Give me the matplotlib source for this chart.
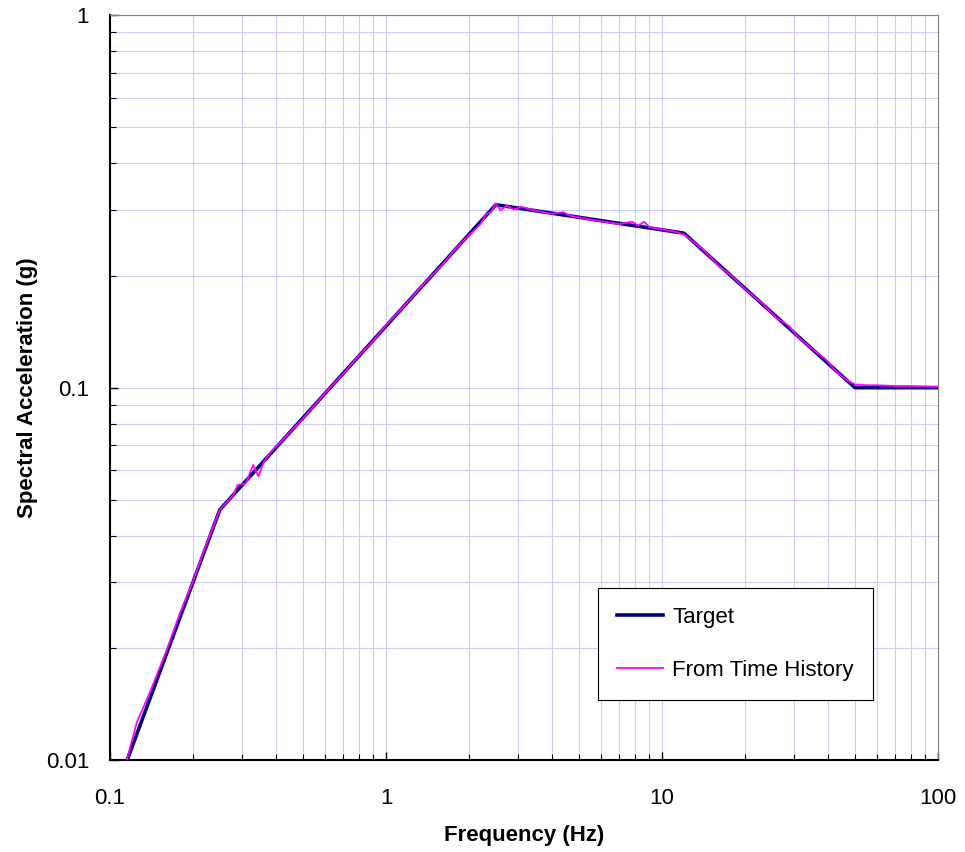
import matplotlib.pyplot as plt
from matplotlib.ticker import NullFormatter

plt.rcParams["font.family"] = ["Liberation Sans", "DejaVu Sans"]

# target spectrum (corner points)
target_freq = [0.1, 0.25, 2.5, 12.0, 50.0, 100.0]
target_sa = [0.0075, 0.047, 0.31, 0.26, 0.100, 0.100]

# spectrum computed from the time history
th_freq = [0.115, 0.125, 0.14, 0.16, 0.18, 0.20, 0.22, 0.25, 0.28, 0.29,
           0.31, 0.33, 0.345, 0.36, 0.38, 0.42, 0.5, 0.6, 0.7, 0.8,
           0.9, 1.0, 1.2, 1.4, 1.6, 1.8, 2.0, 2.2, 2.3, 2.4,
           2.5, 2.6, 2.75, 2.9, 3.1, 3.4, 4.0, 4.4, 4.6, 5.0,
           6.0, 7.0, 7.8, 8.2, 8.6, 9.0, 10.0, 11.0, 12.0, 14.0,
           16.0, 18.0, 20.0, 23.0, 26.0, 29.0, 31.0, 35.0, 39.0, 43.0,
           47.0, 50.0, 55.0, 60.0, 70.0, 80.0, 100.0]
th_sa = [0.0100, 0.0126, 0.0153, 0.0196, 0.0250, 0.0302, 0.0368, 0.0470, 0.0515, 0.0548,
         0.0552, 0.0620, 0.0578, 0.0630, 0.0668, 0.0721, 0.0826, 0.0965, 0.1090, 0.1222,
         0.1338, 0.1470, 0.1700, 0.1935, 0.2140, 0.2375, 0.2570, 0.2750, 0.2920, 0.2960,
         0.3120, 0.3000, 0.3080, 0.3010, 0.3060, 0.3000, 0.2930, 0.2960, 0.2900, 0.2865,
         0.2800, 0.2750, 0.2790, 0.2720, 0.2790, 0.2700, 0.2660, 0.2630, 0.2580, 0.2360,
         0.2130, 0.1990, 0.1840, 0.1690, 0.1540, 0.1460, 0.1372, 0.1270, 0.1195, 0.1100,
         0.1045, 0.1020, 0.1015, 0.1015, 0.1010, 0.1010, 0.1005]

x_ticks = [0.1, 1, 10, 100]
x_labels = ["0.1", "1", "10", "100"]
y_ticks = [0.01, 0.1, 1]
y_labels = ["0.01", "0.1", "1"]

fig = plt.figure(figsize=(9.65, 8.52), dpi=100)
ax = fig.add_axes([0.114, 0.108, 0.858, 0.874])

ax.plot(target_freq, target_sa, color="#000080", linewidth=2.6, label="Target", zorder=3)
ax.plot(th_freq, th_sa, color="#ff00ff", linewidth=1.3, label="From Time History", zorder=4)

ax.set_xscale("log")
ax.set_yscale("log")
ax.set_xlim(0.1, 100)
ax.set_ylim(0.01, 1)

ax.set_xticks(x_ticks)
ax.set_xticklabels(x_labels)
ax.set_yticks(y_ticks)
ax.set_yticklabels(y_labels)
ax.xaxis.set_minor_formatter(NullFormatter())
ax.yaxis.set_minor_formatter(NullFormatter())

ax.tick_params(which="both", direction="in", labelsize=16, top=False, right=False)
ax.tick_params(which="major", length=6, width=1)
ax.tick_params(which="minor", length=4, width=0.8)
ax.tick_params(axis="x", which="major", pad=20)
ax.tick_params(axis="y", which="major", pad=15)

ax.grid(True, which="both", color="#ccccff", linewidth=0.8)
ax.set_axisbelow(True)

ax.spines["left"].set_linewidth(1.5)
ax.spines["bottom"].set_linewidth(1.5)
ax.spines["top"].set_color("#808080")
ax.spines["right"].set_color("#808080")

ax.set_xlabel("Frequency (Hz)", fontsize=16, fontweight="bold", va="center")
ax.set_ylabel("Spectral Acceleration (g)", fontsize=16, fontweight="bold", va="center")
ax.xaxis.set_label_coords(0.5, -0.101)
ax.yaxis.set_label_coords(-0.1, 0.5)

legend = ax.legend(
    loc="lower left",
    bbox_to_anchor=(0.589, 0.081),
    fontsize=16,
    frameon=True,
    fancybox=False,
    framealpha=1,
    edgecolor="black",
    handlelength=2.1,
    handletextpad=0.4,
    labelspacing=1.45,
    borderpad=0.85,
    borderaxespad=0,
)
legend.get_frame().set_linewidth(0.8)

plt.savefig("out.png", dpi=100)
